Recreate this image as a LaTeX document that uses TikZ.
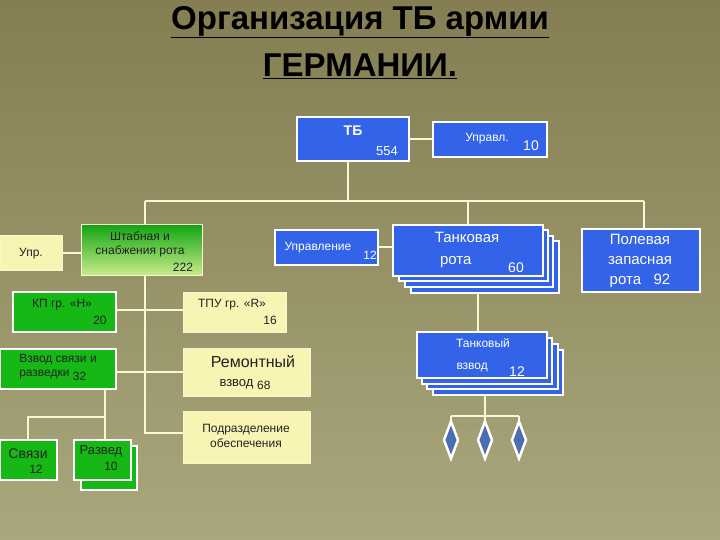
\documentclass[tikz,border=0pt]{standalone}
\usepackage{fontspec}
\setmainfont{Liberation Sans}
\usetikzlibrary{shapes.geometric}
\definecolor{bgtop}{HTML}{847E52}
\definecolor{bgbot}{HTML}{A9A77C}
\definecolor{bl}{HTML}{3263E8}
\definecolor{gr}{HTML}{16B816}
\definecolor{yl}{HTML}{F7F4B4}
\definecolor{lgr}{HTML}{C8EC8A}
\definecolor{ink}{HTML}{222222}
\definecolor{dfill}{HTML}{4A6FB0}
\tikzset{
 bx/.style={draw=white,line width=1.6pt,inner sep=0pt},
 bbox/.style={bx,fill=bl},
 gbox/.style={bx,fill=gr},
 ybox/.style={draw=yl!70!white,line width=1pt,fill=yl,inner sep=0pt},
 wt/.style={text=white,font=\fontsize{13}{15}\selectfont,align=center,inner sep=0pt},
 dt/.style={text=ink,font=\fontsize{13}{15}\selectfont,align=center,inner sep=0pt},
 num/.style={font=\fontsize{12}{14}\selectfont,inner sep=0pt},
 ln/.style={draw=yl!60!white,line width=2pt},
 dia/.style={diamond,draw=white,line width=2.5pt,fill=dfill,minimum width=15pt,minimum height=38pt,inner sep=0pt}
}
\newcommand{\bxat}[6]{\node[#1,minimum width=#4-#2,minimum height=#5-#3] (#6) at ({(#2+#4)/2},{(#3+#5)/2}) {};}
\newcommand{\ul}[1]{\underline{#1}}
\begin{document}
\begin{tikzpicture}[x=1pt,y=-1pt]
\shade[top color=bgtop,bottom color=bgbot] (0,0) rectangle (720,540);
\useasboundingbox (0,0) rectangle (720,540);
\node[font=\bfseries\fontsize{33}{38}\selectfont,text=black,inner sep=0pt] (t1) at (360,22) {\ul{Организация ТБ армии}};
\node[font=\bfseries\fontsize{33}{38}\selectfont,text=black,inner sep=0pt] (t2) at (360,66) {\ul{ГЕРМАНИИ.}};
% connectors
\coordinate (hl) at (145,201); \coordinate (hr) at (644,201);
\draw[ln] (348,161) coordinate (tbs) -- (348,201) coordinate (tbj);
\draw[ln] (hl) -- (hr);
\draw[ln] (409,139) -- (433,139);
\draw[ln] (hl) -- (145,433) -- (183,433);
\draw[ln] (62,253) -- (81,253);
\draw[ln] (378,247) -- (394,247);
\draw[ln] (468,201) -- (468,225);
\draw[ln] (hr) -- (644,229);
\draw[ln] (116,310) -- (183,310);
\draw[ln] (116,372) -- (183,372);
\draw[ln] (478,292) -- (478,332);
\draw[ln] (485,395) -- (485,416);
\draw[ln] (451,416) -- (519,416);
\draw[ln] (105,389) -- (105,417) -- (28,417) -- (28,440);
% boxes
\bxat{bbox}{297}{117}{409}{161}{tb}
\node[wt,font=\bfseries\fontsize{14}{15}\selectfont] (tbt) at (353,131) {ТБ};
\node[num,text=white,font=\fontsize{13}{14}\selectfont] (tbn) at (387,151) {554};
\bxat{bbox}{433}{122}{547}{157}{upr}
\node[wt,font=\fontsize{12}{14}\selectfont] (uprt) at (487,139) {Управл.};
\node[num,text=white,font=\fontsize{14}{14}\selectfont] (uprn) at (531,146) {10};
\bxat{ybox}{0}{235}{62}{270}{u}
\node[dt,font=\fontsize{12}{14}\selectfont] (ut) at (31,254) {Упр.};
\node[bx,line width=1pt,draw=yl!60!white,top color=gr!90!black,bottom color=lgr,minimum width=121,minimum height=50,inner sep=0pt] (sh) at (141.5,250) {};
\node[dt,font=\fontsize{12}{14}\selectfont] (sht) at (140,244) {Штабная и\\снабжения рота};
\node[num,text=ink] (shn) at (183,267) {222};
\bxat{bbox}{275}{230}{378}{265}{upl}
\node[wt,font=\fontsize{12}{14}\selectfont] (uplt) at (318,248) {Управление};
\node[num,text=white] (upln) at (370,255) {12};
\bxat{bbox}{411}{241}{559}{293}{tk3}
\bxat{bbox}{405}{236}{553}{287}{tk2}
\bxat{bbox}{399}{230}{548}{281}{tk1}
\bxat{bbox}{393}{225}{543}{276}{tk}
\node[wt,font=\fontsize{15}{22}\selectfont] (tkt) at (467,250) {Танковая\\\hspace*{-1.5em}рота};
\node[num,text=white,font=\fontsize{14}{14}\selectfont] (tkn) at (516,268) {60};
\bxat{bbox}{582}{229}{700}{292}{pol}
\node[wt,font=\fontsize{15}{20}\selectfont] (polt) at (640,261) {Полевая\\запасная\\рота\ \ \ 92};
\bxat{gbox}{13}{292}{116}{332}{kp}
\node[dt,font=\fontsize{12}{14}\selectfont] (kpt) at (62,305) {КП гр. «Н»};
\node[num,text=ink] (kpn) at (100,320) {20};
\bxat{ybox}{183}{292}{286}{332}{tpu}
\node[dt,font=\fontsize{12}{14}\selectfont] (tput) at (232,305) {ТПУ гр. «R»};
\node[num,text=ink] (tpun) at (270,320) {16};
\bxat{gbox}{0}{349}{116}{389}{vs}
\node[dt,font=\fontsize{12}{14}\selectfont,align=left] (vst) at (58,367) {Взвод связи и\\разведки \raisebox{-4pt}{32}};
\bxat{ybox}{183}{348}{310}{396}{rem}
\node[dt,font=\fontsize{16}{16}\selectfont] (remt) at (253,362) {Ремонтный};
\node[dt,font=\fontsize{13}{13}\selectfont] (remt2) at (245,385) {взвод \raisebox{-3pt}{\fontsize{12}{12}\selectfont 68}};
\bxat{ybox}{183}{411}{310}{463}{pod}
\node[dt,font=\fontsize{12}{15}\selectfont] (podt) at (246,436) {Подразделение\\обеспечения};
\bxat{gbox}{0}{440}{57}{480}{sv}
\node[dt,font=\fontsize{14}{14}\selectfont] (svt) at (28,454) {Связи};
\node[num,text=ink] (svn) at (36,469) {12};
\bxat{gbox}{81}{446}{137}{490}{rz2}
\bxat{gbox}{74}{440}{131}{480}{rz}
\node[dt,font=\fontsize{13}{13}\selectfont] (rzt) at (101,451) {Развед};
\node[num,text=ink] (rzn) at (111,466) {10};
\draw[ln] (105,417) -- (rz.north -| 105,0);
\bxat{bbox}{433}{350}{563}{395}{tv3}
\bxat{bbox}{427}{344}{558}{389}{tv2}
\bxat{bbox}{422}{338}{552}{384}{tv1}
\bxat{bbox}{417}{332}{547}{378}{tv}
\node[wt,font=\fontsize{12}{22}\selectfont] (tvt) at (483,355) {Танковый\\\hspace*{-1.8em}взвод};
\node[num,text=white,font=\fontsize{14}{14}\selectfont] (tvn) at (517,372) {12};
\node[dia] (d1) at (451,440) {};
\node[dia] (d2) at (485,440) {};
\node[dia] (d3) at (519,440) {};
\draw[ln] (451,416) -- (d1.north);
\draw[ln] (485,416) -- (d2.north);
\draw[ln] (519,416) -- (d3.north);
\end{tikzpicture}
\end{document}
